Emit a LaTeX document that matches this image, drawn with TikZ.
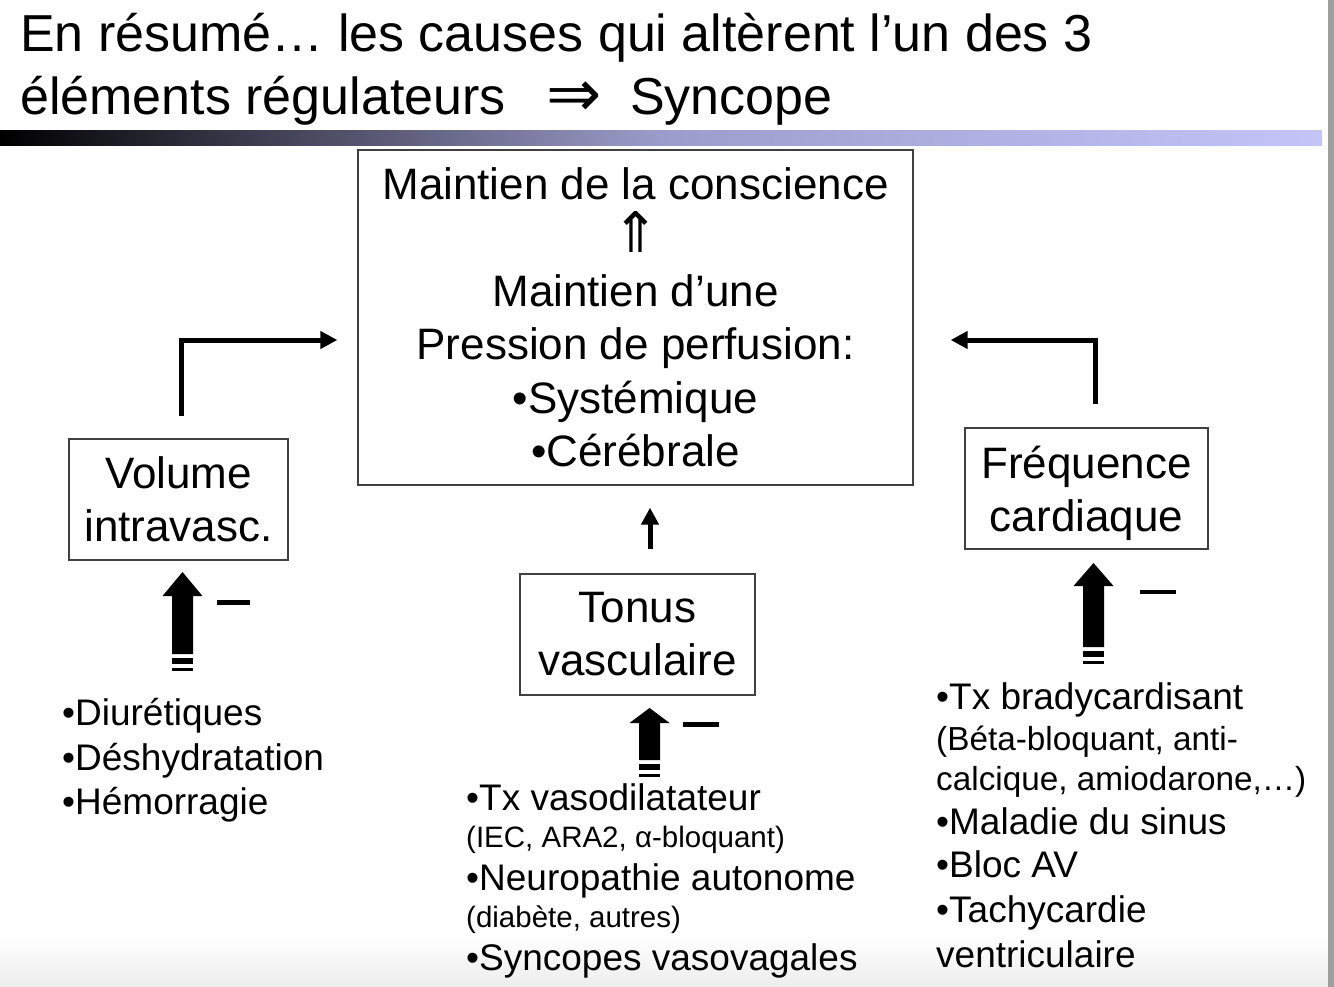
\documentclass[tikz,border=0pt]{standalone}
\usepackage{fontspec}
\setmainfont{Liberation Sans}
\newfontfamily\symbolfont{DejaVu Sans}
\usetikzlibrary{arrows.meta}
\definecolor{barmid}{RGB}{156,156,204}
\definecolor{barend}{RGB}{196,196,248}

\tikzset{
  pics/blockup/.style 2 args={code={
    \fill (-10.5,0) -- (-10.5,-#1) -- (-20,-#1) -- (0,-#1-#2) -- (20,-#1) -- (10.5,-#1) -- (10.5,0) -- cycle;
    \fill (-10.5,4) rectangle (10.5,10);
    \fill (-10.5,13.5) rectangle (10.5,16.5);
  }}
}

\begin{document}
\begin{tikzpicture}[x=1pt, y=-1pt, >={Triangle[length=17pt, width=17pt]}]
    \tikzstyle{box}=[draw=black!75, line width=1.3pt, align=center, inner sep=0pt, font=\fontsize{44}{53}\selectfont]
    \tikzstyle{flow}=[->, line width=5pt]
    \tikzstyle{title}=[anchor=base west, inner sep=0pt, font=\fontsize{52}{62}\selectfont]
    \tikzstyle{cause}=[anchor=base west, inner sep=0pt, font=\fontsize{37}{44}\selectfont]
    \tikzstyle{detail}=[anchor=base west, inner sep=0pt, font=\fontsize{29.5}{35}\selectfont]
    \tikzstyle{note}=[anchor=base west, inner sep=0pt, font=\fontsize{33.3}{40}\selectfont]

    % page
    \useasboundingbox (0,0) rectangle (1334,987);
    \fill[white] (0,0) rectangle (1334,987);
    \shade[top color=white, bottom color=black!7] (0,935) rectangle (1328,987);
    \fill[black!38] (1328,0) rectangle (1334,987);
    \shade[left color=black, right color=barend, middle color=barmid] (0,131) rectangle (1322,146);

    % title
    \node[title] (titre1) at (20,52) {En résumé… les causes qui altèrent l’un des 3};
    \node[title] (titre2) at (20,115) {éléments régulateurs};
    \node[inner sep=0pt, font=\symbolfont\fontsize{66}{70}\selectfont] (implique) at (574,99) {⇒};
    \node[title] (syncope) at (630,115) {Syncope};

    % boxes
    \node[box, minimum width=555pt, minimum height=335pt, font=\fontsize{44}{53.5}\selectfont] (maintien) at (635.5,317.5)
        {Maintien de la conscience\\{\symbolfont\fontsize{56}{53.5}\selectfont ⇑}\\Maintien d’une\\Pression de perfusion:\\•Systémique\\•Cérébrale};
    \node[box, minimum width=219pt, minimum height=121pt] (volume) at (178.5,499.5) {Volume\\intravasc.};
    \node[box, minimum width=235pt, minimum height=121pt] (tonus) at (637.5,634.5) {Tonus\\vasculaire};
    \node[box, minimum width=243pt, minimum height=121pt, text depth=0pt] (frequence) at (1086.5,488.5) {Fréquence\\cardiaque};

    % arrows to the centre
    \draw[flow] ([xshift=2.5pt, yshift=22pt]volume.north) |- ([xshift=-20pt, yshift=-22.5pt]maintien.west);
    \draw[flow] ([xshift=8.5pt, yshift=23pt]frequence.north) |- ([xshift=37pt, yshift=-22.5pt]maintien.east);
    \draw[flow] ([xshift=12.5pt, yshift=24pt]tonus.north) -- ([xshift=14.5pt, yshift=-22pt]maintien.south);

    % block arrows and minus signs
    \pic (flechevol) at (182.5,654) {blockup={58}{24}};
    \pic (flechetonus) at (649.5,760) {blockup={37}{15}};
    \pic (flechefreq) at (1093.5,647) {blockup={61}{23}};
    \fill (217,600) rectangle (250,605);
    \fill (683,722) rectangle (719,727);
    \fill (1140,590) rectangle (1176,594);

    % causes: volume
    \node[cause] (diuretiques) at (62,725) {•Diurétiques};
    \node[cause] (deshydratation) at (62,770) {•Déshydratation};
    \node[cause] (hemorragie) at (62,814) {•Hémorragie};

    % causes: tonus
    \node[cause] (vasodil) at (466,810) {•Tx vasodilatateur};
    \node[detail] (vasodilex) at (466,847) {(IEC, ARA2, α-bloquant)};
    \node[cause] (neuropathie) at (466,890) {•Neuropathie autonome};
    \node[detail] (neuropathieex) at (466,927) {(diabète, autres)};
    \node[cause] (vasovagales) at (466,970) {•Syncopes vasovagales};

    % causes: frequence
    \node[cause] (brady) at (936,709) {•Tx bradycardisant};
    \node[note] (bradyex1) at (936,750) {(Béta-bloquant, anti-};
    \node[note] (bradyex2) at (936,790) {calcique, amiodarone,…)};
    \node[cause] (sinus) at (936,834) {•Maladie du sinus};
    \node[cause] (bloc) at (936,877) {•Bloc AV};
    \node[cause] (tachy1) at (936,922) {•Tachycardie};
    \node[cause] (tachy2) at (936,967) {ventriculaire};
\end{tikzpicture}
\end{document}
